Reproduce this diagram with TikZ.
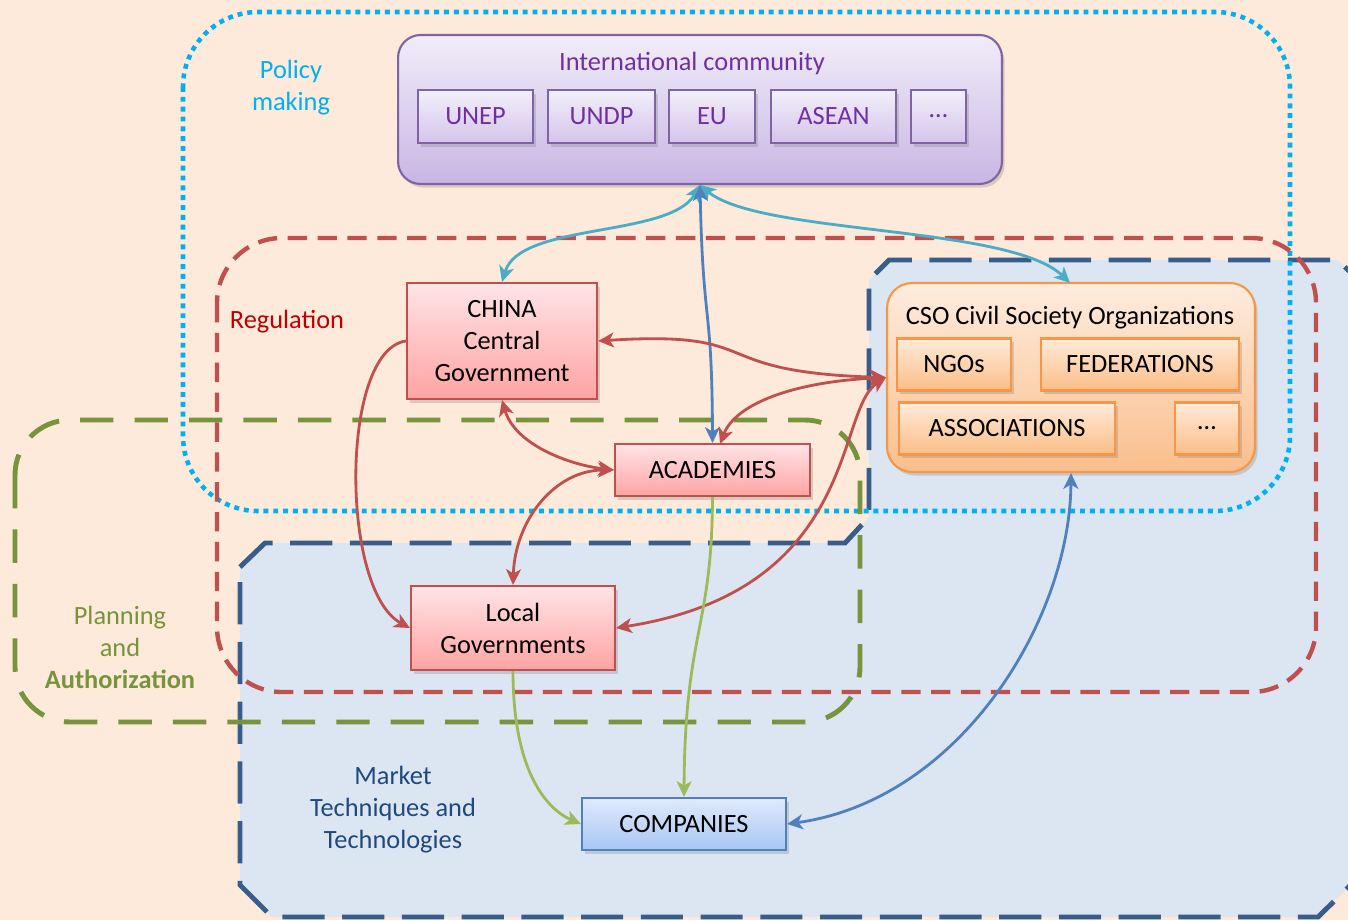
\documentclass[tikz,border=0pt]{standalone}
\usepackage{fontspec}
\setmainfont{Carlito}
\usepackage{tikz}
\usetikzlibrary{arrows.meta,shadows}

\definecolor{peach}{RGB}{253,234,218}
\definecolor{mktfill}{RGB}{220,230,242}
\definecolor{mktline}{RGB}{56,93,138}
\definecolor{mkttext}{RGB}{31,73,125}
\definecolor{polline}{RGB}{0,176,240}
\definecolor{regline}{RGB}{192,80,77}
\definecolor{regtext}{RGB}{192,0,0}
\definecolor{plnline}{RGB}{119,147,60}
\definecolor{intline}{RGB}{128,100,162}
\definecolor{inttext}{RGB}{112,48,160}
\definecolor{inttop}{RGB}{241,237,249}
\definecolor{intbot}{RGB}{200,182,228}
\definecolor{subtop}{RGB}{243,239,250}
\definecolor{subbot}{RGB}{212,196,236}
\definecolor{orgline}{RGB}{247,150,70}
\definecolor{cyanarr}{RGB}{75,172,198}
\definecolor{bluearr}{RGB}{79,129,189}
\definecolor{greenarr}{RGB}{155,187,89}

\begin{document}
\begin{tikzpicture}[x=0.02cm,y=-0.02cm]
\fontsize{15}{18.2}\selectfont
\tikzstyle{shad}=[drop shadow={opacity=0.3,shadow xshift=1.5pt,shadow yshift=-2pt}]
\tikzstyle{intbox}=[draw=intline,line width=1.2pt,rounded corners=0.45cm,top color=inttop,bottom color=intbot,shad]
\tikzstyle{intsub}=[draw=intline,line width=1.2pt,top color=subtop,bottom color=subbot,text=inttext,minimum height=1.06cm,shad]
\tikzstyle{redbox}=[draw=regline,line width=1.2pt,top color={rgb,255:red,255;green,228;blue,230},bottom color={rgb,255:red,255;green,163;blue,163},align=center,shad]
\tikzstyle{bluebox}=[draw=bluearr,line width=1.2pt,top color={rgb,255:red,224;green,234;blue,251},bottom color={rgb,255:red,168;green,198;blue,245},shad]
\tikzstyle{csobox}=[draw=orgline,line width=1.2pt,rounded corners=0.5cm,top color={rgb,255:red,254;green,236;blue,222},bottom color={rgb,255:red,250;green,190;blue,140},shad]
\tikzstyle{csosub}=[draw=orgline,line width=1.2pt,top color={rgb,255:red,255;green,234;blue,216},bottom color={rgb,255:red,251;green,190;blue,136},minimum height=1.04cm,shad]
\tikzstyle{conn}=[line width=1.6pt,>={Stealth[length=9pt,width=8.5pt,inset=2.5pt]}]

\clip (0,0) rectangle (1348,920);
\useasboundingbox (0,0) rectangle (1348,920);
\fill[peach] (0,0) rectangle (1348,920);

% areas
\fill[mktfill] (240,567) -- (265,543) -- (845,543) -- (869,517) -- (869,280) -- (889,260) -- (1338,260) -- (1366,288) -- (1366,870) -- (1318,917) -- (272,917) -- (240,885) -- cycle;
\draw[mktline,line width=2.8pt,dash pattern=on 24pt off 10pt] (240,567) -- (265,543) -- (845,543) -- (869,517) -- (869,280) -- (889,260) -- (1338,260) -- (1366,288) -- (1366,870) -- (1318,917) -- (272,917) -- (240,885) -- cycle;
\draw[polline,line width=2.6pt,dash pattern=on 2.8pt off 2.8pt,rounded corners=1.5cm] (183,12) rectangle (1290,511);
\draw[regline,line width=2.5pt,dash pattern=on 11pt off 6pt,rounded corners=1.3cm] (217,238) rectangle (1316,692);
\draw[plnline,line width=2.8pt,dash pattern=on 19pt off 12pt,rounded corners=1.1cm] (15,420) rectangle (860,722);

\node[text=polline,align=center] (polic) at (291,88) {Policy\\making};
\node[text=regtext] (regul) at (287,322) {Regulation};
\node[text=plnline,align=center] (plann) at (120,647) {Planning\\and\\\textbf{Authorization}};
\node[text=mkttext,align=center] (marke) at (393,810) {Market\\Techniques and\\Technologies};

% international community
\node[intbox,minimum width=12.08cm,minimum height=2.98cm] (intl) at (700,109.5) {};
\node[text=inttext] (intt) at (692,63) {International community};
\node[intsub,minimum width=2.3cm] (unep) at (475.5,116.5) {UNEP};
\node[intsub,minimum width=2.14cm] (undp) at (601.5,116.5) {UNDP};
\node[intsub,minimum width=1.72cm] (eu) at (712,116.5) {EU};
\node[intsub,minimum width=2.5cm] (asean) at (833.5,116.5) {ASEAN};
\node[intsub,minimum width=1.1cm] (imore) at (938.5,116.5) {\dots};

% civil society
\node[csobox,minimum width=7.36cm,minimum height=3.78cm] (cso) at (1071,377.5) {};
\node (csot) at (1070,318) {CSO Civil Society Organizations};
\node[csosub,minimum width=2.28cm] (ngo) at (954,364.5) {NGOs};
\node[csosub,minimum width=3.96cm] (fed) at (1140,364.5) {FEDERATIONS};
\node[csosub,minimum width=4.32cm] (assoc) at (1007,428.5) {ASSOCIATIONS};
\node[csosub,minimum width=1.28cm] (cmore) at (1207,428.5) {\dots};

% actors
\node[redbox,minimum width=3.8cm,minimum height=2.32cm] (china) at (502,341) {CHINA\\Central\\Government};
\node[redbox,minimum width=3.9cm,minimum height=1.04cm] (acad) at (712.5,470) {ACADEMIES};
\node[redbox,minimum width=4.08cm,minimum height=1.68cm] (local) at (513,628) {Local\\Governments};
\node[bluebox,minimum width=4.08cm,minimum height=1.04cm] (comp) at (684,824) {COMPANIES};

% links
\draw[conn,cyanarr,<->] (intl.south) .. controls (670,238) and (520,222) .. (china.north);
\draw[conn,cyanarr,<->] (intl.south) .. controls (760,235) and (1010,225) .. (1070,283);
\draw[conn,bluearr,<->] (intl.south) .. controls (703,330) and (712,300) .. (acad.north);
\draw[conn,regline,<->] (china.east) .. controls (770,330) and (700,372) .. (cso.west);
\draw[conn,regline,<->] (china.south) .. controls (515,445) and (570,465) .. (acad.west);
\draw[conn,regline,<->] (acad.west) .. controls (555,470) and (515,520) .. (local.north);
\draw[conn,regline,->] (china.west) .. controls (340,350) and (340,590) .. (local.west);
\draw[conn,regline,<->] (cso.west) .. controls (835,410) and (860,590) .. (local.east);
\draw[conn,regline,<->] (cso.west) .. controls (790,382) and (735,405) .. (720,444);
\draw[conn,greenarr,->] (local.south) .. controls (513,790) and (560,815) .. (comp.west);
\draw[conn,greenarr,->] (acad.south) .. controls (712,630) and (685,630) .. (comp.north);
\draw[conn,bluearr,<->] (comp.east) .. controls (960,800) and (1070,620) .. (cso.south);
\end{tikzpicture}
\end{document}
